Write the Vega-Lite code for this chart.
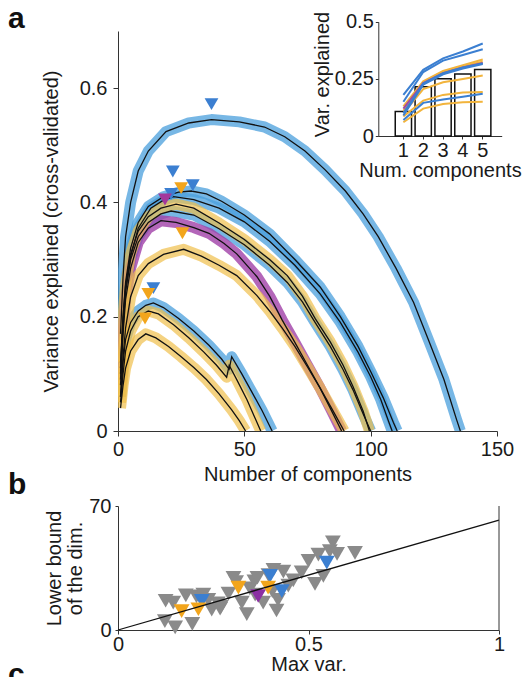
{
  "$schema": "https://vega.github.io/schema/vega-lite/v6.json",
  "padding": {"left": 8, "top": 4, "right": 0, "bottom": 0},
  "background": "white",
  "config": {
    "font": "Liberation Sans",
    "view": {"stroke": null},
    "axis": {"labelFont": "Liberation Sans", "titleFont": "Liberation Sans", "labelFontSize": 20, "titleFontSize": 20, "titleFontWeight": "normal", "labelColor": "#1a1a1a", "titleColor": "#1a1a1a", "domainColor": "#333333", "tickColor": "#333333", "grid": false, "labelFlush": false, "labelOverlap": false},
    "title": {"font": "Liberation Sans", "fontSize": 30, "fontWeight": "bold", "color": "#111111"}
  },
  "datasets": {
    "curves": [
      {"c":"c01","g":"blue","x":1,"y":0.17},{"c":"c01","g":"blue","x":2,"y":0.27},{"c":"c01","g":"blue","x":3,"y":0.34},{"c":"c01","g":"blue","x":5,"y":0.4},{"c":"c01","g":"blue","x":8,"y":0.455},{"c":"c01","g":"blue","x":12,"y":0.49},{"c":"c01","g":"blue","x":19,"y":0.524},{"c":"c01","g":"blue","x":28,"y":0.539},{"c":"c01","g":"blue","x":37,"y":0.545},{"c":"c01","g":"blue","x":48,"y":0.541},{"c":"c01","g":"blue","x":58,"y":0.532},{"c":"c01","g":"blue","x":66,"y":0.515},{"c":"c01","g":"blue","x":74,"y":0.49},{"c":"c01","g":"blue","x":82,"y":0.457},{"c":"c01","g":"blue","x":90,"y":0.42},{"c":"c01","g":"blue","x":97,"y":0.38},{"c":"c01","g":"blue","x":103,"y":0.34},{"c":"c01","g":"blue","x":110,"y":0.285},{"c":"c01","g":"blue","x":117,"y":0.225},{"c":"c01","g":"blue","x":123,"y":0.158},{"c":"c01","g":"blue","x":129,"y":0.09},{"c":"c01","g":"blue","x":134,"y":0.02},{"c":"c01","g":"blue","x":135.5,"y":0},
      {"c":"c02","g":"blue","x":1,"y":0.11},{"c":"c02","g":"blue","x":2,"y":0.2},{"c":"c02","g":"blue","x":3,"y":0.26},{"c":"c02","g":"blue","x":5,"y":0.32},{"c":"c02","g":"blue","x":8,"y":0.365},{"c":"c02","g":"blue","x":12,"y":0.393},{"c":"c02","g":"blue","x":18,"y":0.41},{"c":"c02","g":"blue","x":24,"y":0.418},{"c":"c02","g":"blue","x":29,"y":0.42},{"c":"c02","g":"blue","x":35,"y":0.415},{"c":"c02","g":"blue","x":41,"y":0.402},{"c":"c02","g":"blue","x":50,"y":0.378},{"c":"c02","g":"blue","x":60,"y":0.345},{"c":"c02","g":"blue","x":70,"y":0.3},{"c":"c02","g":"blue","x":80,"y":0.252},{"c":"c02","g":"blue","x":88,"y":0.2},{"c":"c02","g":"blue","x":95,"y":0.148},{"c":"c02","g":"blue","x":100,"y":0.104},{"c":"c02","g":"blue","x":105,"y":0.058},{"c":"c02","g":"blue","x":109,"y":0.015},{"c":"c02","g":"blue","x":110.5,"y":0},
      {"c":"c03","g":"blue","x":1,"y":0.09},{"c":"c03","g":"blue","x":2,"y":0.18},{"c":"c03","g":"blue","x":3,"y":0.245},{"c":"c03","g":"blue","x":5,"y":0.305},{"c":"c03","g":"blue","x":8,"y":0.355},{"c":"c03","g":"blue","x":13,"y":0.39},{"c":"c03","g":"blue","x":18,"y":0.404},{"c":"c03","g":"blue","x":22,"y":0.41},{"c":"c03","g":"blue","x":30,"y":0.405},{"c":"c03","g":"blue","x":40,"y":0.39},{"c":"c03","g":"blue","x":50,"y":0.366},{"c":"c03","g":"blue","x":60,"y":0.332},{"c":"c03","g":"blue","x":70,"y":0.29},{"c":"c03","g":"blue","x":80,"y":0.24},{"c":"c03","g":"blue","x":88,"y":0.19},{"c":"c03","g":"blue","x":95,"y":0.138},{"c":"c03","g":"blue","x":100,"y":0.095},{"c":"c03","g":"blue","x":104,"y":0.055},{"c":"c03","g":"blue","x":107,"y":0.018},{"c":"c03","g":"blue","x":108.5,"y":0},
      {"c":"c04","g":"blue","x":1,"y":0.1},{"c":"c04","g":"blue","x":2,"y":0.19},{"c":"c04","g":"blue","x":3,"y":0.245},{"c":"c04","g":"blue","x":5,"y":0.3},{"c":"c04","g":"blue","x":8,"y":0.34},{"c":"c04","g":"blue","x":12,"y":0.365},{"c":"c04","g":"blue","x":17,"y":0.38},{"c":"c04","g":"blue","x":21,"y":0.385},{"c":"c04","g":"blue","x":30,"y":0.378},{"c":"c04","g":"blue","x":40,"y":0.354},{"c":"c04","g":"blue","x":50,"y":0.326},{"c":"c04","g":"blue","x":60,"y":0.29},{"c":"c04","g":"blue","x":67,"y":0.26},{"c":"c04","g":"blue","x":73,"y":0.226},{"c":"c04","g":"blue","x":78,"y":0.19},{"c":"c04","g":"blue","x":84,"y":0.148},{"c":"c04","g":"blue","x":89,"y":0.108},{"c":"c04","g":"blue","x":93,"y":0.072},{"c":"c04","g":"blue","x":97,"y":0.03},{"c":"c04","g":"blue","x":100,"y":0},
      {"c":"c08","g":"blue","x":1,"y":0.06},{"c":"c08","g":"blue","x":2,"y":0.12},{"c":"c08","g":"blue","x":3,"y":0.16},{"c":"c08","g":"blue","x":5,"y":0.19},{"c":"c08","g":"blue","x":8,"y":0.21},{"c":"c08","g":"blue","x":11,"y":0.22},{"c":"c08","g":"blue","x":14,"y":0.224},{"c":"c08","g":"blue","x":18,"y":0.216},{"c":"c08","g":"blue","x":24,"y":0.197},{"c":"c08","g":"blue","x":30,"y":0.175},{"c":"c08","g":"blue","x":36,"y":0.15},{"c":"c08","g":"blue","x":41,"y":0.126},{"c":"c08","g":"blue","x":44,"y":0.108},{"c":"c08","g":"blue","x":45,"y":0.13},{"c":"c08","g":"blue","x":49,"y":0.1},{"c":"c08","g":"blue","x":53,"y":0.068},{"c":"c08","g":"blue","x":57,"y":0.036},{"c":"c08","g":"blue","x":61,"y":0},
      {"c":"c06","g":"purple","x":1,"y":0.08},{"c":"c06","g":"purple","x":2,"y":0.17},{"c":"c06","g":"purple","x":3,"y":0.23},{"c":"c06","g":"purple","x":5,"y":0.285},{"c":"c06","g":"purple","x":8,"y":0.33},{"c":"c06","g":"purple","x":12,"y":0.355},{"c":"c06","g":"purple","x":17,"y":0.368},{"c":"c06","g":"purple","x":23,"y":0.365},{"c":"c06","g":"purple","x":30,"y":0.356},{"c":"c06","g":"purple","x":36,"y":0.346},{"c":"c06","g":"purple","x":42,"y":0.328},{"c":"c06","g":"purple","x":47,"y":0.31},{"c":"c06","g":"purple","x":55,"y":0.27},{"c":"c06","g":"purple","x":60,"y":0.236},{"c":"c06","g":"purple","x":65,"y":0.194},{"c":"c06","g":"purple","x":70,"y":0.155},{"c":"c06","g":"purple","x":75,"y":0.115},{"c":"c06","g":"purple","x":80,"y":0.075},{"c":"c06","g":"purple","x":84,"y":0.04},{"c":"c06","g":"purple","x":88.5,"y":0},
      {"c":"c05","g":"yellow","x":1,"y":0.12},{"c":"c05","g":"yellow","x":2,"y":0.2},{"c":"c05","g":"yellow","x":3,"y":0.255},{"c":"c05","g":"yellow","x":5,"y":0.31},{"c":"c05","g":"yellow","x":8,"y":0.35},{"c":"c05","g":"yellow","x":12,"y":0.375},{"c":"c05","g":"yellow","x":17,"y":0.39},{"c":"c05","g":"yellow","x":23,"y":0.397},{"c":"c05","g":"yellow","x":30,"y":0.39},{"c":"c05","g":"yellow","x":40,"y":0.364},{"c":"c05","g":"yellow","x":50,"y":0.335},{"c":"c05","g":"yellow","x":60,"y":0.3},{"c":"c05","g":"yellow","x":67,"y":0.272},{"c":"c05","g":"yellow","x":73,"y":0.236},{"c":"c05","g":"yellow","x":78,"y":0.197},{"c":"c05","g":"yellow","x":84,"y":0.156},{"c":"c05","g":"yellow","x":89,"y":0.116},{"c":"c05","g":"yellow","x":93,"y":0.078},{"c":"c05","g":"yellow","x":97,"y":0.035},{"c":"c05","g":"yellow","x":99.5,"y":0},
      {"c":"c07","g":"yellow","x":1,"y":0.06},{"c":"c07","g":"yellow","x":2,"y":0.13},{"c":"c07","g":"yellow","x":3,"y":0.18},{"c":"c07","g":"yellow","x":5,"y":0.235},{"c":"c07","g":"yellow","x":8,"y":0.272},{"c":"c07","g":"yellow","x":12,"y":0.293},{"c":"c07","g":"yellow","x":18,"y":0.309},{"c":"c07","g":"yellow","x":26,"y":0.318},{"c":"c07","g":"yellow","x":33,"y":0.306},{"c":"c07","g":"yellow","x":40,"y":0.29},{"c":"c07","g":"yellow","x":47,"y":0.272},{"c":"c07","g":"yellow","x":55,"y":0.237},{"c":"c07","g":"yellow","x":60,"y":0.21},{"c":"c07","g":"yellow","x":65,"y":0.18},{"c":"c07","g":"yellow","x":70,"y":0.148},{"c":"c07","g":"yellow","x":75,"y":0.112},{"c":"c07","g":"yellow","x":80,"y":0.075},{"c":"c07","g":"yellow","x":85,"y":0.036},{"c":"c07","g":"yellow","x":89.5,"y":0},
      {"c":"c09","g":"yellow","x":1,"y":0.05},{"c":"c09","g":"yellow","x":2,"y":0.1},{"c":"c09","g":"yellow","x":3,"y":0.14},{"c":"c09","g":"yellow","x":5,"y":0.175},{"c":"c09","g":"yellow","x":8,"y":0.2},{"c":"c09","g":"yellow","x":12,"y":0.21},{"c":"c09","g":"yellow","x":16,"y":0.205},{"c":"c09","g":"yellow","x":22,"y":0.186},{"c":"c09","g":"yellow","x":28,"y":0.163},{"c":"c09","g":"yellow","x":34,"y":0.138},{"c":"c09","g":"yellow","x":39,"y":0.115},{"c":"c09","g":"yellow","x":43,"y":0.094},{"c":"c09","g":"yellow","x":44,"y":0.115},{"c":"c09","g":"yellow","x":47,"y":0.09},{"c":"c09","g":"yellow","x":51,"y":0.055},{"c":"c09","g":"yellow","x":54,"y":0.025},{"c":"c09","g":"yellow","x":56.5,"y":0},
      {"c":"c10","g":"yellow","x":1,"y":0.04},{"c":"c10","g":"yellow","x":2,"y":0.08},{"c":"c10","g":"yellow","x":3,"y":0.11},{"c":"c10","g":"yellow","x":5,"y":0.14},{"c":"c10","g":"yellow","x":8,"y":0.16},{"c":"c10","g":"yellow","x":11,"y":0.17},{"c":"c10","g":"yellow","x":15,"y":0.163},{"c":"c10","g":"yellow","x":20,"y":0.148},{"c":"c10","g":"yellow","x":25,"y":0.13},{"c":"c10","g":"yellow","x":30,"y":0.111},{"c":"c10","g":"yellow","x":35,"y":0.09},{"c":"c10","g":"yellow","x":40,"y":0.065},{"c":"c10","g":"yellow","x":45,"y":0.037},{"c":"c10","g":"yellow","x":48,"y":0.018},{"c":"c10","g":"yellow","x":50.5,"y":0}
    ],
    "peaks": [
      {"x":37,"y":0.572,"g":"blue"},{"x":21.7,"y":0.454,"g":"blue"},{"x":29.6,"y":0.43,"g":"blue"},{"x":21,"y":0.415,"g":"blue"},{"x":14,"y":0.25,"g":"blue"},
      {"x":25,"y":0.425,"g":"orange"},{"x":18.6,"y":0.405,"g":"purple"},{"x":25.5,"y":0.346,"g":"orange"},{"x":12,"y":0.24,"g":"orange"},{"x":10.7,"y":0.197,"g":"orange"}
    ],
    "inset_bars": [
      {"n":1,"v":0.107},{"n":2,"v":0.216},{"n":3,"v":0.251},{"n":4,"v":0.272},{"n":5,"v":0.291}
    ],
    "inset_lines": [
      {"k":"o5","g":"orange","n":1,"v":0.06},{"k":"o5","g":"orange","n":2,"v":0.12},{"k":"o5","g":"orange","n":3,"v":0.14},{"k":"o5","g":"orange","n":4,"v":0.148},{"k":"o5","g":"orange","n":5,"v":0.15},
      {"k":"o4","g":"orange","n":1,"v":0.085},{"k":"o4","g":"orange","n":2,"v":0.155},{"k":"o4","g":"orange","n":3,"v":0.18},{"k":"o4","g":"orange","n":4,"v":0.19},{"k":"o4","g":"orange","n":5,"v":0.193},
      {"k":"o3","g":"orange","n":1,"v":0.1},{"k":"o3","g":"orange","n":2,"v":0.205},{"k":"o3","g":"orange","n":3,"v":0.235},{"k":"o3","g":"orange","n":4,"v":0.25},{"k":"o3","g":"orange","n":5,"v":0.265},
      {"k":"o2","g":"orange","n":1,"v":0.11},{"k":"o2","g":"orange","n":2,"v":0.235},{"k":"o2","g":"orange","n":3,"v":0.28},{"k":"o2","g":"orange","n":4,"v":0.305},{"k":"o2","g":"orange","n":5,"v":0.325},
      {"k":"o1","g":"orange","n":1,"v":0.13},{"k":"o1","g":"orange","n":2,"v":0.24},{"k":"o1","g":"orange","n":3,"v":0.285},{"k":"o1","g":"orange","n":4,"v":0.31},{"k":"o1","g":"orange","n":5,"v":0.335},
      {"k":"p1","g":"purple","n":1,"v":0.12},{"k":"p1","g":"purple","n":2,"v":0.232},{"k":"p1","g":"purple","n":3,"v":0.275},{"k":"p1","g":"purple","n":4,"v":0.3},{"k":"p1","g":"purple","n":5,"v":0.32},
      {"k":"b3","g":"blue","n":1,"v":0.07},{"k":"b3","g":"blue","n":2,"v":0.145},{"k":"b3","g":"blue","n":3,"v":0.16},{"k":"b3","g":"blue","n":4,"v":0.172},{"k":"b3","g":"blue","n":5,"v":0.185},
      {"k":"b4","g":"blue","n":1,"v":0.1},{"k":"b4","g":"blue","n":2,"v":0.23},{"k":"b4","g":"blue","n":3,"v":0.275},{"k":"b4","g":"blue","n":4,"v":0.3},{"k":"b4","g":"blue","n":5,"v":0.318},
      {"k":"b5","g":"blue","n":1,"v":0.09},{"k":"b5","g":"blue","n":2,"v":0.225},{"k":"b5","g":"blue","n":3,"v":0.27},{"k":"b5","g":"blue","n":4,"v":0.295},{"k":"b5","g":"blue","n":5,"v":0.315},
      {"k":"b2","g":"blue","n":1,"v":0.15},{"k":"b2","g":"blue","n":2,"v":0.28},{"k":"b2","g":"blue","n":3,"v":0.33},{"k":"b2","g":"blue","n":4,"v":0.355},{"k":"b2","g":"blue","n":5,"v":0.38},
      {"k":"b1","g":"blue","n":1,"v":0.18},{"k":"b1","g":"blue","n":2,"v":0.29},{"k":"b1","g":"blue","n":3,"v":0.34},{"k":"b1","g":"blue","n":4,"v":0.37},{"k":"b1","g":"blue","n":5,"v":0.405}
    ],
    "scatter": [
      {"x":0.125,"y":16.5,"g":"gray"},{"x":0.145,"y":15.5,"g":"gray"},{"x":0.123,"y":5,"g":"gray"},{"x":0.15,"y":1.5,"g":"gray"},{"x":0.178,"y":19.5,"g":"gray"},{"x":0.195,"y":3.5,"g":"gray"},{"x":0.206,"y":19,"g":"gray"},{"x":0.224,"y":20,"g":"gray"},{"x":0.237,"y":17,"g":"gray"},{"x":0.246,"y":11.5,"g":"gray"},{"x":0.262,"y":15,"g":"gray"},{"x":0.27,"y":13,"g":"gray"},{"x":0.29,"y":20.5,"g":"gray"},{"x":0.303,"y":29.5,"g":"gray"},{"x":0.31,"y":27,"g":"gray"},{"x":0.325,"y":15.5,"g":"gray"},{"x":0.338,"y":9,"g":"gray"},{"x":0.346,"y":23.5,"g":"gray"},{"x":0.358,"y":27.5,"g":"gray"},{"x":0.366,"y":29.5,"g":"gray"},{"x":0.381,"y":15.5,"g":"gray"},{"x":0.395,"y":31,"g":"gray"},{"x":0.408,"y":34,"g":"gray"},{"x":0.416,"y":11,"g":"gray"},{"x":0.42,"y":17,"g":"gray"},{"x":0.434,"y":33,"g":"gray"},{"x":0.447,"y":25,"g":"gray"},{"x":0.46,"y":28,"g":"gray"},{"x":0.482,"y":32.5,"g":"gray"},{"x":0.5,"y":39,"g":"gray"},{"x":0.517,"y":26,"g":"gray"},{"x":0.539,"y":30.5,"g":"gray"},{"x":0.526,"y":42.5,"g":"gray"},{"x":0.556,"y":44.5,"g":"gray"},{"x":0.564,"y":49.5,"g":"gray"},{"x":0.575,"y":43,"g":"gray"},{"x":0.622,"y":43.5,"g":"gray"},{"x":0.36,"y":20,"g":"gray"},{"x":0.405,"y":22,"g":"gray"},{"x":0.268,"y":12,"g":"gray"},
      {"x":0.22,"y":16.4,"g":"blue"},{"x":0.399,"y":30.5,"g":"blue"},{"x":0.43,"y":22,"g":"blue"},{"x":0.548,"y":38,"g":"blue"},
      {"x":0.368,"y":19.2,"g":"purple"},
      {"x":0.167,"y":10.7,"g":"orange"},{"x":0.211,"y":11.7,"g":"orange"},{"x":0.316,"y":23.9,"g":"orange"},{"x":0.394,"y":23.9,"g":"orange"}
    ],
    "fit": [{"x":0,"y":0},{"x":1,"y":62}],
    "border": [{"x":1,"y":0,"y2":70}]
  },
  "title": {"text": "c", "orient": "bottom", "anchor": "start", "frame": "group", "dx": -110, "offset": -14},
  "spacing": 75,
  "bounds": "flush",
  "vconcat": [
    {
      "width": 379,
      "height": 400,
      "title": {"text": "a", "anchor": "start", "frame": "group", "dx": -110, "dy": 27},
      "layer": [
        {
          "layer": [
            {
              "data": {"name": "curves"},
              "transform": [{"filter": "datum.g == 'blue'"}],
              "mark": {"type": "line", "strokeWidth": 11, "color": "#4a9fdc", "opacity": 0.75, "clip": true, "strokeJoin": "round"},
              "encoding": {
                "x": {"field": "x", "type": "quantitative", "scale": {"domain": [0, 150], "nice": false}, "axis": {"orient": "bottom", "values": [0, 50, 100, 150], "title": "Number of components", "tickSize": 5, "labelPadding": 3, "titlePadding": 5}},
                "y": {"field": "y", "type": "quantitative", "scale": {"domain": [0, 0.7], "nice": false}, "axis": {"orient": "left", "values": [0, 0.2, 0.4, 0.6], "format": "~g", "title": "Variance explained (cross-validated)", "tickSize": 5, "labelPadding": 6, "titlePadding": 18}},
                "detail": {"field": "c"}
              }
            },
            {
              "data": {"name": "curves"},
              "transform": [{"filter": "datum.g == 'purple'"}],
              "mark": {"type": "line", "strokeWidth": 11, "color": "#a040a8", "opacity": 0.8, "clip": true, "strokeJoin": "round"},
              "encoding": {"x": {"field": "x", "type": "quantitative"}, "y": {"field": "y", "type": "quantitative"}, "detail": {"field": "c"}}
            },
            {
              "data": {"name": "curves"},
              "transform": [{"filter": "datum.g == 'yellow'"}],
              "mark": {"type": "line", "strokeWidth": 11, "color": "#f0bf4c", "opacity": 0.7, "clip": true, "strokeJoin": "round"},
              "encoding": {"x": {"field": "x", "type": "quantitative"}, "y": {"field": "y", "type": "quantitative"}, "detail": {"field": "c"}}
            },
            {
              "data": {"name": "curves"},
              "mark": {"type": "line", "strokeWidth": 1.3, "color": "#111111", "clip": true},
              "encoding": {"x": {"field": "x", "type": "quantitative"}, "y": {"field": "y", "type": "quantitative"}, "detail": {"field": "c"}}
            },
            {
              "data": {"name": "peaks"},
              "mark": {"type": "point", "shape": "triangle-down", "filled": true, "size": 190, "opacity": 1},
              "encoding": {
                "x": {"field": "x", "type": "quantitative"},
                "y": {"field": "y", "type": "quantitative"},
                "color": {"field": "g", "type": "nominal", "scale": {"domain": ["blue", "orange", "purple"], "range": ["#3b7fd1", "#f2a51c", "#a3389c"]}, "legend": null}
              }
            }
          ]
        },
        {
          "layer": [
            {
              "data": {"name": "inset_bars"},
              "mark": {"type": "bar", "fill": "white", "stroke": "#111111", "strokeWidth": 1.5},
              "encoding": {
                "x": {"field": "n", "type": "ordinal", "scale": {"range": [260.3, 383.7], "paddingInner": 0.18, "paddingOuter": 0.7, "align": 0.61}, "axis": {"orient": "bottom", "offset": -295, "labelAngle": 0, "title": "Num. components", "tickSize": 3, "labelPadding": 1, "titlePadding": 0}},
                "y": {"field": "v", "type": "quantitative", "scale": {"domain": [0, 0.5], "range": [105, -9.2], "nice": false}, "axis": {"orient": "left", "offset": -260.3, "values": [0, 0.25, 0.5], "format": "~g", "title": "Var. explained", "tickSize": 3, "labelPadding": 2, "titlePadding": 2, "titleY": 43}}
              }
            },
            {
              "data": {"name": "inset_lines"},
              "mark": {"type": "line", "strokeWidth": 2},
              "encoding": {
                "x": {"field": "n", "type": "ordinal"},
                "y": {"field": "v", "type": "quantitative"},
                "color": {"field": "g", "type": "nominal", "scale": {"domain": ["blue", "orange", "purple"], "range": ["#3b7fd1", "#f2b43c", "#a04aa6"]}, "legend": null},
                "detail": {"field": "k"}
              }
            }
          ]
        }
      ],
      "resolve": {"scale": {"x": "independent", "y": "independent", "color": "independent"}}
    },
    {
      "width": 381,
      "height": 124,
      "title": {"text": "b", "anchor": "start", "frame": "group", "dx": -110, "dy": 8},
      "layer": [
        {
          "data": {"name": "scatter"},
          "transform": [{"filter": "datum.g == 'gray'"}],
          "mark": {"type": "point", "shape": "triangle-down", "filled": true, "size": 250, "opacity": 1, "color": "#8a8a8a"},
          "encoding": {
            "x": {"field": "x", "type": "quantitative", "scale": {"domain": [0, 1], "nice": false}, "axis": {"values": [0, 0.5, 1], "format": "~g", "title": "Max var.", "tickSize": 4, "labelPadding": 0, "titlePadding": 0}},
            "y": {"field": "y", "type": "quantitative", "scale": {"domain": [0, 70], "nice": false}, "axis": {"values": [0, 70], "title": ["Lower bound", "of the dim."], "tickSize": 3, "labelPadding": 4, "titlePadding": 3, "titleLineHeight": 21}}
          }
        },
        {
          "data": {"name": "scatter"},
          "transform": [{"filter": "datum.g != 'gray'"}],
          "mark": {"type": "point", "shape": "triangle-down", "filled": true, "size": 250, "opacity": 1},
          "encoding": {
            "x": {"field": "x", "type": "quantitative"},
            "y": {"field": "y", "type": "quantitative"},
            "color": {"field": "g", "type": "nominal", "scale": {"domain": ["blue", "orange", "purple"], "range": ["#3b7fd1", "#f2a51c", "#8b2fa3"]}, "legend": null}
          }
        },
        {
          "data": {"name": "fit"},
          "mark": {"type": "line", "color": "#111111", "strokeWidth": 1.3},
          "encoding": {"x": {"field": "x", "type": "quantitative"}, "y": {"field": "y", "type": "quantitative"}}
        },
        {
          "data": {"name": "border"},
          "mark": {"type": "rule", "color": "#333333"},
          "encoding": {"x": {"field": "x", "type": "quantitative"}, "y": {"field": "y", "type": "quantitative"}, "y2": {"field": "y2"}}
        }
      ]
    }
  ]
}
